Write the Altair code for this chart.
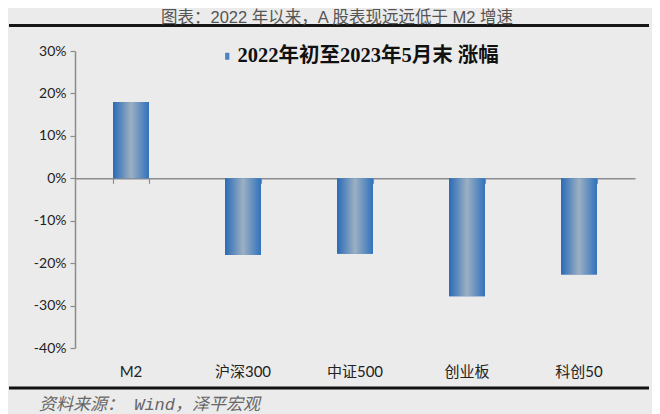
import altair as alt
import pandas as pd

# ---- data ----
categories = ["M2", "沪深300", "中证500", "创业板", "科创50"]
changes = [0.180, -0.181, -0.178, -0.278, -0.227]
series_name = "2022年初至2023年5月末 涨幅"
y_ticks = [-0.4, -0.3, -0.2, -0.1, 0.0, 0.1, 0.2, 0.3]
title_text = "图表：2022 年以来，A 股表现远远低于 M2 增速"
source_text = "资料来源：  Wind，泽平宏观"

# ---- layout ----
W, H = 560, 297
y_min, y_max = -0.4, 0.3
zero_offset = -H * (0 - y_min) / (y_max - y_min)

df = pd.DataFrame({"cat": categories, "chg": changes, "series": [series_name] * len(categories)})

x_scale = alt.Scale(domain=categories, paddingInner=0.68, paddingOuter=0.34)
y_scale = alt.Scale(domain=[y_min, y_max], nice=False, zero=False)

axis_grey = "#8c8c8c"

y_axis = alt.Axis(
    values=y_ticks, grid=False, domainColor=axis_grey, domainWidth=1.5,
    tickColor=axis_grey, tickSize=5, tickWidth=1.2, labelPadding=4,
    labelFont="Lato", labelFontSize=14, labelColor="#222",
    labelExpr="round(datum.value * 100) + '%'",
)
label_axis = alt.Axis(
    orient="bottom", domain=False, ticks=False, tickSize=0, labelPadding=16,
    labelFont="Lato, Noto Sans CJK SC", labelFontSize=15, labelColor="#222",
    labelAngle=0,
)
zero_axis = alt.Axis(
    orient="bottom", offset=zero_offset, labels=False, domain=True,
    domainColor=axis_grey, domainWidth=1.5, ticks=True, tickBand="extent",
    tickColor=axis_grey, tickSize=5, tickWidth=1.2,
)

gradient = alt.LinearGradient(
    gradient="linear", x1=0, x2=1, y1=0, y2=0,
    stops=[
        alt.GradientStop(color="#2a6ab6", offset=0),
        alt.GradientStop(color="#9cb0c2", offset=0.5),
        alt.GradientStop(color="#3172bd", offset=1),
    ],
)

solid = alt.Chart(df).mark_bar().encode(
    x=alt.X("cat:N", scale=x_scale, sort=categories, title=None, axis=label_axis),
    y=alt.Y("chg:Q", scale=y_scale, title=None, axis=y_axis),
    color=alt.Color(
        "series:N", scale=alt.Scale(range=["#4a82c2"]),
        legend=alt.Legend(
            title=None, orient="none", legendX=142, legendY=-5, padding=0,
            symbolType="M-1.05,-1.75H1.05V1.75H-1.05Z", symbolSize=16, symbolStrokeWidth=0,
            labelFont="Liberation Serif, Noto Sans CJK SC", labelFontSize=20.5,
            labelFontWeight="bold", labelColor="#111", labelOffset=0, labelLimit=500,
        ),
    ),
)

bars = alt.Chart(df).mark_bar(color=gradient).encode(
    x=alt.X("cat:N", scale=x_scale, sort=categories, title=None, axis=zero_axis),
    y=alt.Y("chg:Q", scale=y_scale, title=None, axis=y_axis),
)

top_line = alt.Chart(pd.DataFrame({"k": ["top"]})).mark_rule(
    color="#161616", strokeWidth=3
).encode(x=alt.value(-66), x2=alt.value(574), y=alt.value(-25.5))
bottom_line = alt.Chart(pd.DataFrame({"k": ["bottom"]})).mark_rule(
    color="#111111", strokeWidth=3
).encode(x=alt.value(-66), x2=alt.value(574), y=alt.value(337))

title_df = pd.DataFrame({"t": [title_text]})
title = alt.Chart(title_df).mark_text(
    align="center", baseline="middle", fontSize=16.5,
    font="Liberation Sans, Noto Sans CJK SC", color="#555",
).encode(x=alt.value(262), y=alt.value(-33.5), text="t:N")

src_df = pd.DataFrame({"t": [source_text]})
source = alt.Chart(src_df).mark_text(
    align="left", baseline="middle", fontStyle="italic", fontSize=17,
    font="Liberation Mono, Noto Sans CJK SC", color="#666",
).encode(x=alt.value(-36), y=alt.value(354), text="t:N")

chart = (
    alt.layer(solid, bars, top_line, bottom_line, title, source)
    .resolve_axis(x="independent")
    .properties(
        width=W, height=H,
        autosize=alt.AutoSizeParams(type="none"),
        padding={"left": 67, "top": 43, "right": 17, "bottom": 66},
        background="#ebebeb",
    )
    .configure_view(stroke=None)
)

chart.save("out.html", embed_options={"renderer": "svg", "actions": False})
